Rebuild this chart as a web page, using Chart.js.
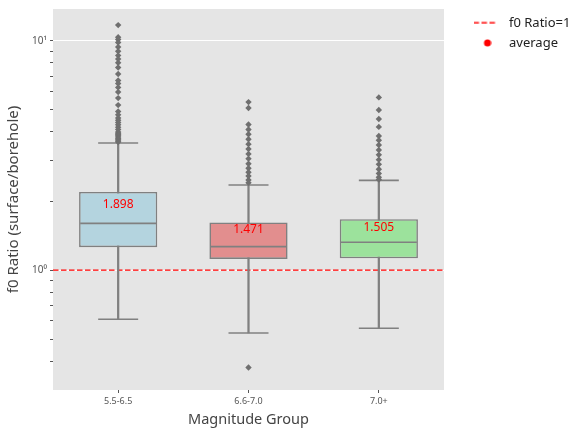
<!DOCTYPE html>
<html>
<head>
<meta charset="utf-8">
<script src="https://cdn.jsdelivr.net/npm/chart.js@4.4.1/dist/chart.umd.min.js"></script>
<style>
body { margin: 0; background: #fff; }
</style>
</head>
<body>
<canvas id="box" width="571" height="431"></canvas>
<script>
/* Data */
var groups = ["5.5-6.5", "6.6-7.0", "7.0+"];
var q1 = [1.258, 1.118, 1.125];
var medians = [1.598, 1.266, 1.322];
var q3 = [2.19, 1.614, 1.667];
var whiskerLow = [0.61, 0.532, 0.558];
var whiskerHigh = [3.58, 2.35, 2.46];
var averages = [1.898, 1.471, 1.505];
var outliers55 = [11.7, 10.36, 10.13, 9.83, 9.39, 9.0, 8.63, 8.32, 8.02, 7.64, 7.16, 6.71, 6.51, 6.26, 5.98, 5.62, 5.24, 4.91,
	4.75, 4.6, 4.5, 4.4, 4.3, 4.2, 4.1, 4.0, 3.95, 3.9, 3.85, 3.8, 3.75, 3.7, 3.65, 3.62];
var outliers66 = [5.4, 5.09, 4.31, 4.1, 3.91, 3.72, 3.54, 3.37, 3.21, 3.06, 2.91, 2.78, 2.67, 2.57, 2.47, 2.4, 0.376];
var outliers70 = [5.66, 4.99, 4.56, 4.21, 3.84, 3.68, 3.51, 3.34, 3.18, 3.03, 2.89, 2.75, 2.64, 2.54, 2.48];
var refRatio = 1;
var yTickValues = [0.4, 0.5, 0.6, 0.7, 0.8, 0.9, 1, 2, 3, 4, 5, 6, 7, 8, 9, 10];
var yTickLabels = ["", "", "", "", "", "", "10⁰", "", "", "", "", "", "", "", "", "10¹"];

/* Styles */
var boxColors = ["#b4d4df", "#e28e8e", "#9ce29c"];
var edgeColor = "#808080";
var fontFamily = "'Noto Sans', 'Open Sans', sans-serif";
Chart.defaults.font.family = fontFamily;

var outlierPoints = [];
[outliers55, outliers66, outliers70].forEach(function (list, i) {
	list.forEach(function (v) {
		outlierPoints.push({ x: groups[i], y: v });
	});
});

// small canvases used as legend symbols
function legendIcon(w, h, draw) {
	var c = document.createElement("canvas");
	c.width = w;
	c.height = h;
	draw(c.getContext("2d"));
	return c;
}
var dashIcon = legendIcon(24, 3, function (g) {
	g.strokeStyle = "#ff0000";
	g.lineWidth = 1.6;
	g.setLineDash([5.5, 2.5]);
	g.beginPath();
	g.moveTo(0, 1.5);
	g.lineTo(24, 1.5);
	g.stroke();
});
var dotIcon = legendIcon(12, 8, function (g) {
	g.fillStyle = "#ff0000";
	g.beginPath();
	g.arc(8, 4, 3.5, 0, Math.PI * 2);
	g.fill();
});

/* Plugins */
var plotBackground = {
	id: "plotBackground",
	beforeDraw: function (chart) {
		var a = chart.chartArea;
		var c = chart.ctx;
		c.save();
		c.fillStyle = "#e5e5e5";
		c.fillRect(a.left, a.top, a.right - a.left, a.bottom - a.top);
		c.restore();
	},
	beforeDatasetsDraw: function (chart) {
		var a = chart.chartArea;
		var c = chart.ctx;
		var y = chart.scales.y.getPixelForValue(refRatio);
		c.save();
		c.strokeStyle = "#ff0000";
		c.lineWidth = 1.2;
		c.setLineDash([5.5, 2.5]);
		c.beginPath();
		c.moveTo(a.left, y);
		c.lineTo(a.right, y);
		c.stroke();
		c.restore();
	},
	afterDatasetsDraw: function (chart) {
		var meta = chart.getDatasetMeta(1);
		var c = chart.ctx;
		c.save();
		c.fillStyle = "#ff0000";
		c.font = "12px " + fontFamily;
		c.textAlign = "center";
		c.textBaseline = "middle";
		meta.data.forEach(function (pt, i) {
			c.fillText(averages[i].toFixed(3), pt.x, pt.y - 2);
		});
		c.restore();
	},
};

var ctx = document.getElementById("box");
var boxChart = new Chart(ctx, {
	type: "bar",
	data: {
		labels: groups,
		datasets: [
			{
				type: "line",
				label: "f0 Ratio=1",
				data: [refRatio],
				showLine: false,
				pointRadius: 0,
				pointStyle: dashIcon,
				borderColor: "#ff0000",
				order: 0,
			},
			{
				type: "line",
				label: "average",
				data: averages,
				showLine: false,
				pointRadius: 0,
				pointStyle: dotIcon,
				borderColor: "#ff0000",
				backgroundColor: "#ff0000",
				order: 1,
			},
			{
				type: "line",
				label: "outliers",
				data: outlierPoints,
				showLine: false,
				pointStyle: "rectRot",
				pointRadius: 3.2,
				pointBorderWidth: 0,
				pointBackgroundColor: "#6f6f6f",
				order: 2,
			},
			{
				type: "line",
				label: "median",
				data: medians,
				showLine: false,
				pointStyle: "line",
				pointRadius: 38,
				pointBorderWidth: 1.6,
				pointBorderColor: edgeColor,
				order: 3,
			},
			{
				type: "line",
				label: "lower cap",
				data: whiskerLow,
				showLine: false,
				pointStyle: "line",
				pointRadius: 20,
				pointBorderWidth: 1.6,
				pointBorderColor: edgeColor,
				order: 4,
			},
			{
				type: "line",
				label: "upper cap",
				data: whiskerHigh,
				showLine: false,
				pointStyle: "line",
				pointRadius: 20,
				pointBorderWidth: 1.6,
				pointBorderColor: edgeColor,
				order: 4,
			},
			{
				label: "box",
				data: groups.map(function (g, i) {
					return [q1[i], q3[i]];
				}),
				backgroundColor: boxColors,
				borderColor: edgeColor,
				borderWidth: 1.6,
				borderSkipped: false,
				barPercentage: 0.6,
				categoryPercentage: 1,
				grouped: false,
				order: 5,
			},
			{
				label: "whisker",
				data: groups.map(function (g, i) {
					return [whiskerLow[i], whiskerHigh[i]];
				}),
				backgroundColor: edgeColor,
				barThickness: 1.6,
				grouped: false,
				order: 6,
			},
		],
	},
	options: {
		responsive: false,
		animation: false,
		layout: { autoPadding: false, padding: { top: 7, left: 0, right: 0, bottom: 0 } },
		plugins: {
			tooltip: { enabled: false },
			legend: {
				position: "right",
				align: "start",
				maxWidth: 109.5,
				title: { display: true, text: "", font: { size: 2 }, padding: 0 },
				labels: {
					usePointStyle: true,
					pointStyleWidth: 34,
					boxHeight: 8,
					padding: 7,
					color: "#222",
					font: { size: 13 },
					filter: function (item) {
						return item.datasetIndex < 2;
					},
				},
			},
		},
		scales: {
			x: {
				grid: { drawOnChartArea: false, drawTicks: true, tickLength: 3, offset: false, color: "#555" },
				border: { display: false },
				ticks: { color: "#555", font: { size: 9 }, padding: 3 },
				title: {
					display: true,
					text: "Magnitude Group",
					color: "#444",
					font: { size: 14.5 },
					padding: { top: 0, bottom: 2 },
				},
				afterFit: function (s) {
					s.height = 41;
				},
			},
			y: {
				type: "logarithmic",
				min: 0.319,
				max: 13.75,
				afterBuildTicks: function (s) {
					s.ticks = yTickValues.map(function (v) {
						return { value: v };
					});
				},
				afterFit: function (s) {
					s.width = 53;
				},
				grid: {
					color: function (c) {
						return c.tick && (c.tick.value === 1 || c.tick.value === 10) ? "#ffffff" : "rgba(0,0,0,0)";
					},
					tickColor: "#555",
					tickLength: 3,
				},
				border: { display: false },
				ticks: {
					autoSkip: false,
					color: "#555",
					font: { size: 10 },
					padding: 3,
					callback: function (v, i) {
						return yTickLabels[i];
					},
				},
				title: {
					display: true,
					text: "f0 Ratio (surface/borehole)",
					color: "#444",
					font: { size: 15 },
					padding: { top: 5, bottom: 0 },
				},
			},
			// empty axis that keeps the gap between the plot and the legend
			gap: {
				type: "linear",
				position: "right",
				grid: { display: false },
				ticks: { display: false },
				border: { display: false },
				afterFit: function (s) {
					s.width = 17.5;
				},
			},
		},
	},
	plugins: [plotBackground],
});
</script>
</body>
</html>
